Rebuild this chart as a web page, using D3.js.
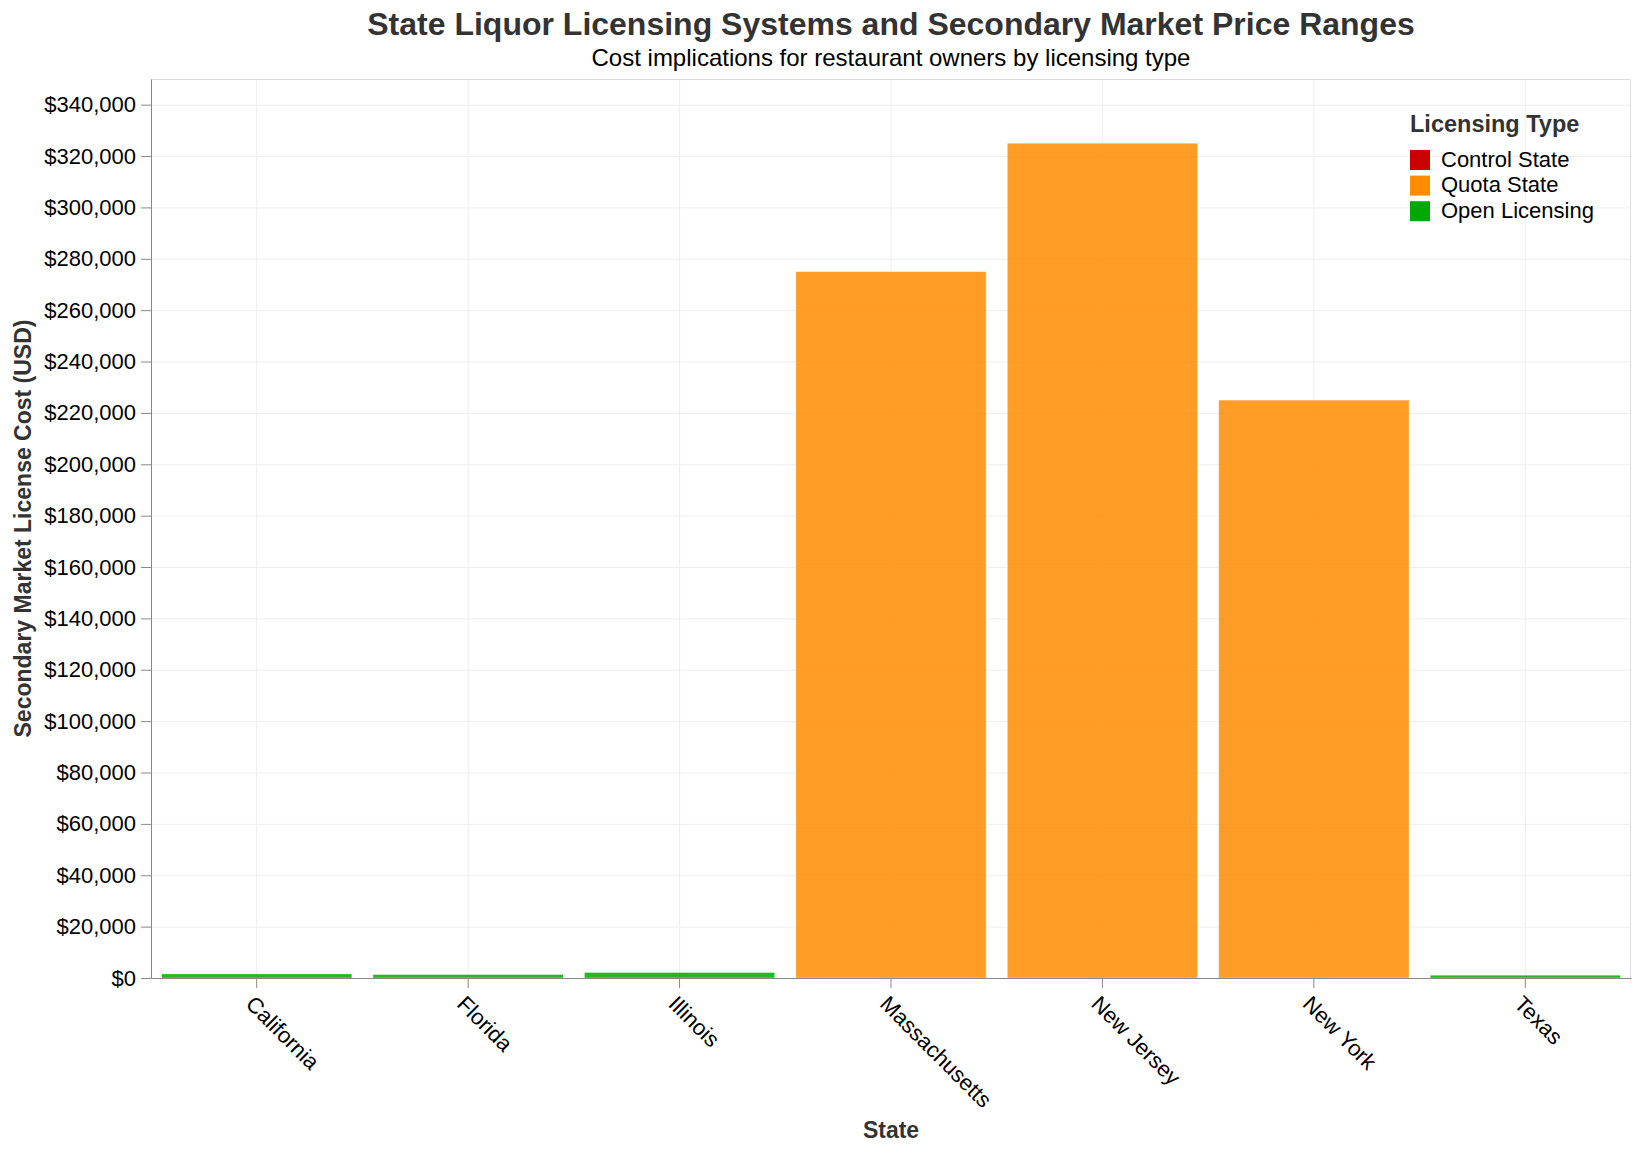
<!DOCTYPE html>
<html>
<head>
<meta charset="utf-8">
<script src="https://cdn.jsdelivr.net/npm/d3@7"></script>
<style>
  html, body { margin: 0; padding: 0; background: #fff; }
  svg text { font-family: "Liberation Sans", Arial, Helvetica, sans-serif; }
</style>
</head>
<body>
<svg id="chart" width="1640" height="1152"></svg>
<script>
// ---- data ----
const states = ["California", "Florida", "Illinois", "Massachusetts", "New Jersey", "New York", "Texas"];
const licenseCosts = [1600, 1350, 2150, 275000, 325000, 225000, 1100];
const licensingTypes = ["Open Licensing", "Open Licensing", "Open Licensing", "Quota State", "Quota State", "Quota State", "Open Licensing"];
const legendTypes = ["Control State", "Quota State", "Open Licensing"];
const typeColors = ["#cc0000", "#ff8c00", "#00a800"];
const yTicks = [0, 20000, 40000, 60000, 80000, 100000, 120000, 140000, 160000, 180000, 200000, 220000, 240000, 260000, 280000, 300000, 320000, 340000];
const yMax = 350000;

const rows = states.map((s, i) => ({ state: s, cost: licenseCosts[i], type: licensingTypes[i] }));

// ---- layout ----
const W = 1640, H = 1152;
const margin = { top: 79, right: 9, bottom: 174, left: 151 };
const iw = W - margin.left - margin.right;
const ih = H - margin.top - margin.bottom;

const svg = d3.select("#chart");
const g = svg.append("g").attr("transform", `translate(${margin.left},${margin.top})`);

const x = d3.scaleBand().domain(states).range([0, iw]).paddingInner(0.1).paddingOuter(0.05);
const y = d3.scaleLinear().domain([0, yMax]).range([ih, 0]);
const color = d3.scaleOrdinal().domain(legendTypes).range(typeColors);

// grid
g.append("g").selectAll("line.hg").data(yTicks).join("line")
  .attr("x1", 0).attr("x2", iw)
  .attr("y1", d => y(d) + 0.5).attr("y2", d => y(d) + 0.5)
  .attr("stroke", "#eeeeee").attr("stroke-width", 1);
g.append("g").selectAll("line.vg").data(states).join("line")
  .attr("x1", d => x(d) + x.bandwidth() / 2).attr("x2", d => x(d) + x.bandwidth() / 2)
  .attr("y1", 0).attr("y2", ih)
  .attr("stroke", "#eeeeee").attr("stroke-width", 1);

// view border (top & right)
g.append("line").attr("x1", 0).attr("x2", iw).attr("y1", 0.5).attr("y2", 0.5).attr("stroke", "#dddddd");
g.append("line").attr("x1", iw - 0.5).attr("x2", iw - 0.5).attr("y1", 0).attr("y2", ih).attr("stroke", "#dddddd");

// bars
g.append("g").selectAll("rect").data(rows).join("rect")
  .attr("x", d => x(d.state))
  .attr("width", x.bandwidth())
  .attr("y", d => y(d.cost))
  .attr("height", d => ih - y(d.cost))
  .attr("fill", d => color(d.type))
  .attr("fill-opacity", 0.85)
  .attr("stroke", "#ffffff").attr("stroke-width", 0.6).attr("stroke-opacity", 0.6);

// y axis
const yAxis = g.append("g")
  .call(d3.axisLeft(y).tickValues(yTicks).tickFormat(d => "$" + d3.format(",")(d)).tickSize(10).tickSizeOuter(0).tickPadding(5));
yAxis.select(".domain").attr("stroke", "#888888");
yAxis.selectAll(".tick line").attr("stroke", "#888888");
yAxis.selectAll(".tick text").attr("font-size", 22).attr("fill", "#000").attr("font-family", '"Liberation Sans", Arial, sans-serif');

// x axis
const xAxis = g.append("g").attr("transform", `translate(0,${ih})`)
  .call(d3.axisBottom(x).tickSize(10).tickSizeOuter(0).tickPadding(4));
xAxis.select(".domain").attr("stroke", "#888888");
xAxis.selectAll(".tick line").attr("stroke", "#888888");
xAxis.selectAll(".tick text")
  .attr("font-size", 22).attr("fill", "#000").attr("font-family", '"Liberation Sans", Arial, sans-serif')
  .attr("text-anchor", "start")
  .attr("dominant-baseline", "hanging")
  .attr("dy", null)
  .attr("y", 0)
  .attr("transform", "translate(-1,16) rotate(45)");

// axis titles
g.append("text")
  .attr("x", iw / 2).attr("y", ih + 160)
  .attr("text-anchor", "middle")
  .attr("font-size", 23).attr("font-weight", "bold").attr("fill", "#333")
  .text("State");
g.append("text")
  .attr("transform", `translate(${-120},${ih / 2}) rotate(-90)`)
  .attr("text-anchor", "middle")
  .attr("font-size", 23).attr("font-weight", "bold").attr("fill", "#333")
  .text("Secondary Market License Cost (USD)");

// title
svg.append("text")
  .attr("x", margin.left + iw / 2).attr("y", 35)
  .attr("text-anchor", "middle")
  .attr("font-size", 32).attr("font-weight", "bold").attr("fill", "#333")
  .text("State Liquor Licensing Systems and Secondary Market Price Ranges");
svg.append("text")
  .attr("x", margin.left + iw / 2).attr("y", 66)
  .attr("text-anchor", "middle")
  .attr("font-size", 24).attr("fill", "#000")
  .text("Cost implications for restaurant owners by licensing type");

// legend
const lg = svg.append("g").attr("transform", "translate(1410,0)");
lg.append("text").attr("x", 0).attr("y", 132)
  .attr("font-size", 23.5).attr("font-weight", "bold").attr("fill", "#333")
  .text("Licensing Type");
const items = lg.selectAll("g.item").data(legendTypes).join("g")
  .attr("transform", (d, i) => `translate(0,${150 + i * 25.6})`);
items.append("rect").attr("width", 20).attr("height", 20).attr("fill", d => color(d));
items.append("text").attr("x", 31).attr("y", 9).attr("dominant-baseline", "central")
  .attr("font-size", 22).attr("fill", "#000").text(d => d);
</script>
</body>
</html>
